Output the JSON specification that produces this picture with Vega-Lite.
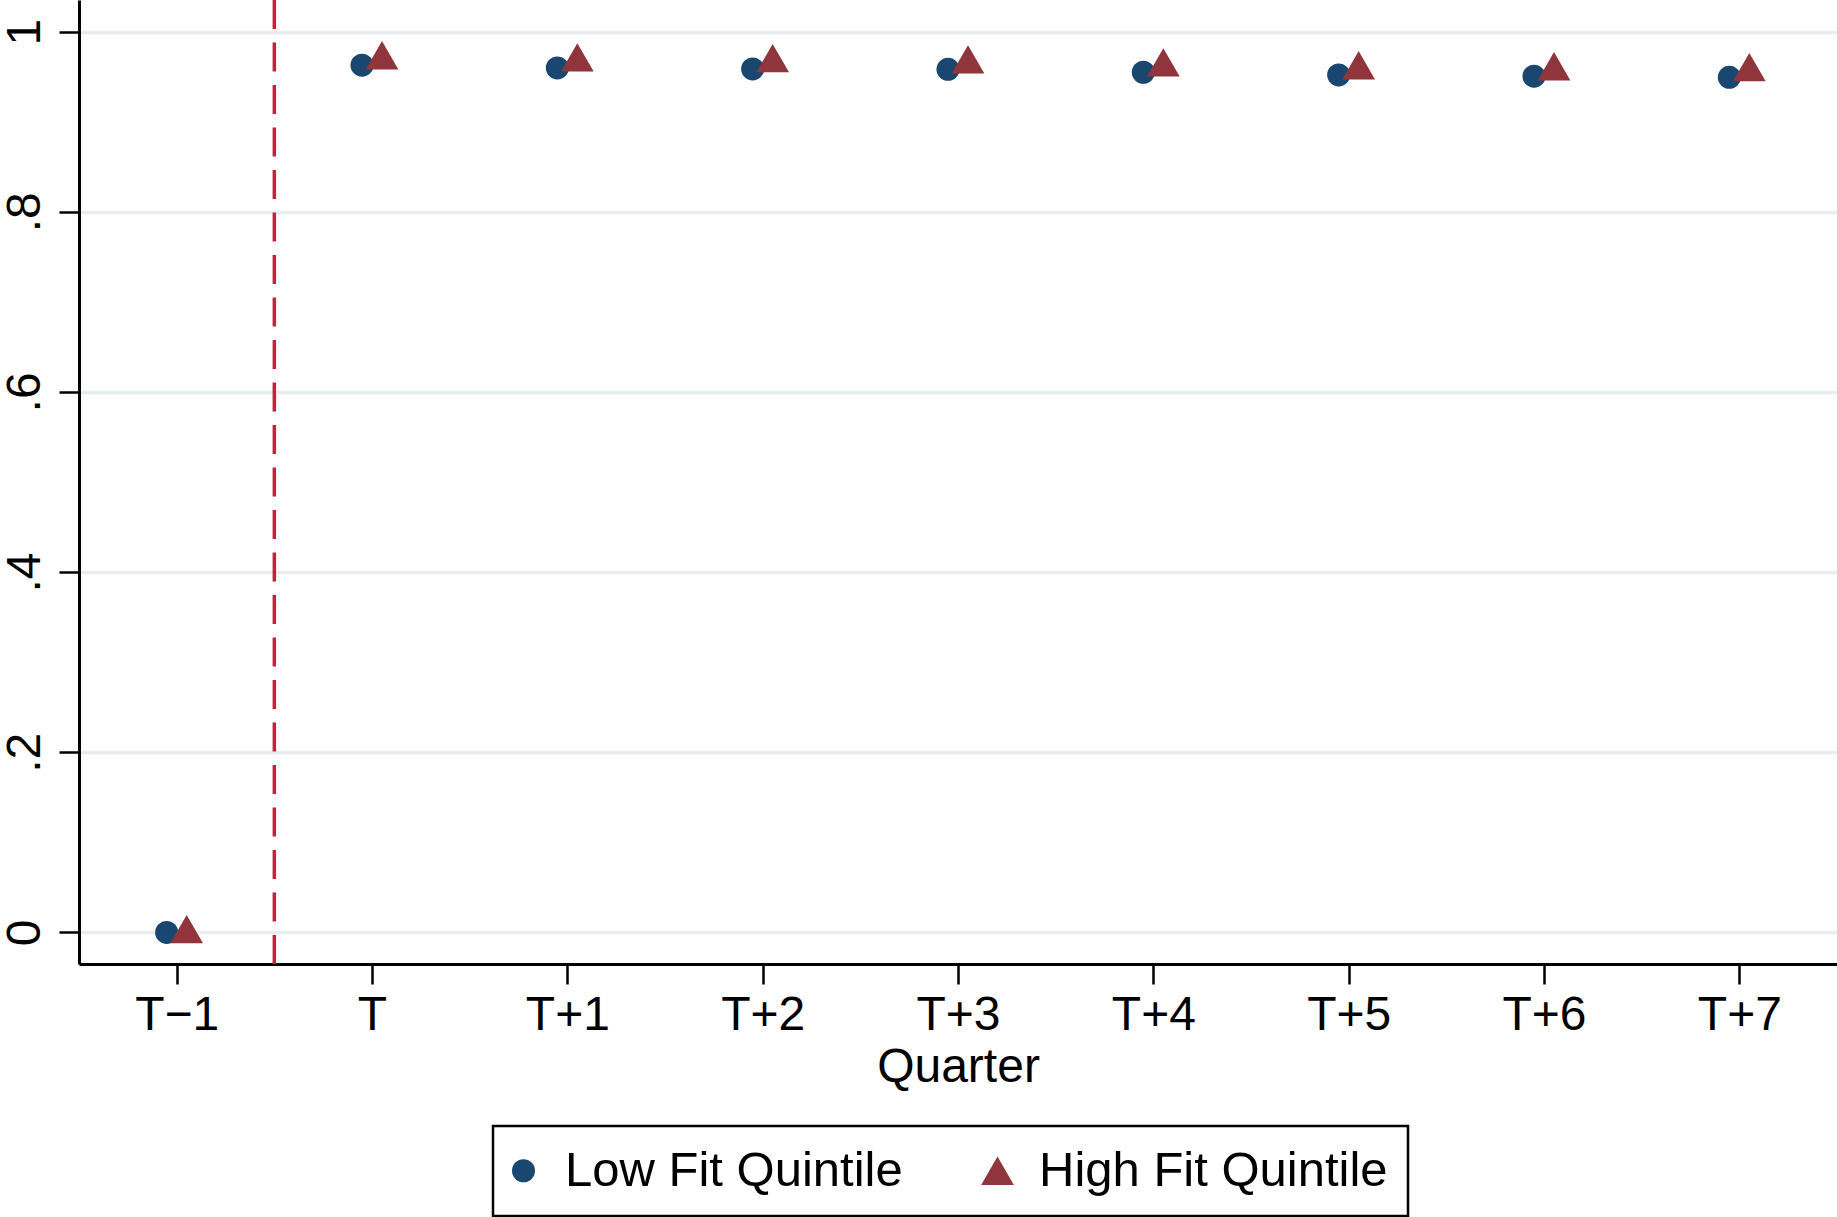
{
  "$schema": "https://vega.github.io/schema/vega-lite/v6.json",
  "width": 1758,
  "height": 964,
  "autosize": {"type": "none"},
  "padding": {"left": 79, "top": 0, "right": 0, "bottom": 253},
  "background": "white",
  "datasets": {
    "points": [
      {"quarter": -1, "group": "Low Fit Quintile", "share": 0.0},
      {"quarter": 0, "group": "Low Fit Quintile", "share": 0.9626},
      {"quarter": 1, "group": "Low Fit Quintile", "share": 0.9596},
      {"quarter": 2, "group": "Low Fit Quintile", "share": 0.9585},
      {"quarter": 3, "group": "Low Fit Quintile", "share": 0.9581},
      {"quarter": 4, "group": "Low Fit Quintile", "share": 0.9548},
      {"quarter": 5, "group": "Low Fit Quintile", "share": 0.9518},
      {"quarter": 6, "group": "Low Fit Quintile", "share": 0.9504},
      {"quarter": 7, "group": "Low Fit Quintile", "share": 0.9492},
      {"quarter": -1, "group": "High Fit Quintile", "share": 0.0037},
      {"quarter": 0, "group": "High Fit Quintile", "share": 0.9737},
      {"quarter": 1, "group": "High Fit Quintile", "share": 0.9714},
      {"quarter": 2, "group": "High Fit Quintile", "share": 0.9704},
      {"quarter": 3, "group": "High Fit Quintile", "share": 0.969},
      {"quarter": 4, "group": "High Fit Quintile", "share": 0.9657},
      {"quarter": 5, "group": "High Fit Quintile", "share": 0.9626},
      {"quarter": 6, "group": "High Fit Quintile", "share": 0.9615},
      {"quarter": 7, "group": "High Fit Quintile", "share": 0.9604}
    ],
    "event": [{"quarter": -0.5}]
  },
  "layer": [
    {
      "data": {"name": "event"},
      "mark": {"type": "rule", "color": "#c8203c", "strokeWidth": 3.5, "strokeDash": [29, 13.5]},
      "encoding": {
        "x": {"field": "quarter", "type": "quantitative"}
      }
    },
    {
      "data": {"name": "points"},
      "transform": [{"filter": "datum.group == 'Low Fit Quintile'"}],
      "mark": {"type": "point", "filled": true, "opacity": 1, "xOffset": -10},
      "encoding": {
        "x": {"field": "quarter", "type": "quantitative"},
        "y": {"field": "share", "type": "quantitative"},
        "color": {"field": "group", "type": "nominal"},
        "shape": {"field": "group", "type": "nominal"},
        "size": {"field": "group", "type": "nominal"}
      }
    },
    {
      "data": {"name": "points"},
      "transform": [{"filter": "datum.group == 'High Fit Quintile'"}],
      "mark": {"type": "point", "filled": true, "opacity": 1, "xOffset": 10},
      "encoding": {
        "x": {
          "field": "quarter",
          "type": "quantitative",
          "title": "Quarter",
          "scale": {"domain": [-1.5, 7.5], "nice": false, "zero": false},
          "axis": {
            "values": [-1, 0, 1, 2, 3, 4, 5, 6, 7],
            "labelExpr": "datum.value == -1 ? 'T−1' : datum.value == 0 ? 'T' : 'T+' + datum.value",
            "grid": false
          }
        },
        "y": {
          "field": "share",
          "type": "quantitative",
          "title": null,
          "scale": {"domain": [-0.035, 1.035], "nice": false, "zero": false},
          "axis": {
            "values": [0, 0.2, 0.4, 0.6, 0.8, 1],
            "labelExpr": "datum.value == 0 ? '0' : datum.value == 1 ? '1' : '.' + round(datum.value * 10)",
            "labelAngle": 270,
            "labelAlign": "center",
            "labelBaseline": "alphabetic",
            "labelPadding": 20,
            "grid": true
          }
        },
        "color": {
          "field": "group",
          "type": "nominal",
          "scale": {"domain": ["Low Fit Quintile", "High Fit Quintile"], "range": ["#1a476f", "#90353b"]},
          "legend": {
            "title": null,
            "orient": "none",
            "legendX": 414,
            "legendY": 1126,
            "direction": "horizontal"
          }
        },
        "shape": {
          "field": "group",
          "type": "nominal",
          "scale": {"domain": ["Low Fit Quintile", "High Fit Quintile"], "range": ["circle", "triangle-up"]}
        },
        "size": {
          "field": "group",
          "type": "nominal",
          "scale": {"domain": ["Low Fit Quintile", "High Fit Quintile"], "range": [531, 1069]}
        }
      }
    }
  ],
  "config": {
    "view": {"stroke": null},
    "font": "Liberation Sans",
    "axis": {
      "domainColor": "black",
      "domainWidth": 3,
      "tickColor": "black",
      "tickWidth": 2.5,
      "tickSize": 20,
      "labelFont": "Liberation Sans",
      "labelFontSize": 48,
      "labelColor": "black",
      "labelFlush": false,
      "labelOverlap": false,
      "titleFont": "Liberation Sans",
      "titleFontSize": 48,
      "titleFontWeight": "normal",
      "titleColor": "black",
      "gridColor": "#e6eef0",
      "gridWidth": 3.5
    },
    "axisX": {"labelPadding": 7, "titlePadding": 4},
    "legend": {
      "strokeColor": "black",
      "strokeWidth": 2.5,
      "fillColor": "white",
      "padding": 20,
      "labelFont": "Liberation Sans",
      "labelFontSize": 49,
      "labelColor": "black",
      "labelLimit": 1000,
      "labelOffset": 17,
      "symbolOffset": -14,
      "columnPadding": 78,
      "symbolStrokeWidth": 0,
      "symbolOpacity": 1
    }
  }
}
